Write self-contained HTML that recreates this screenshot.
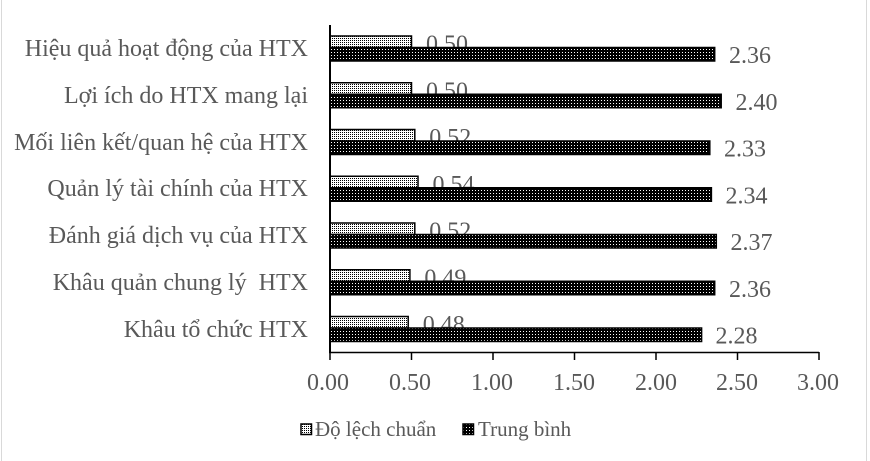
<!DOCTYPE html>
<html><head><meta charset="utf-8"><style>
html,body{margin:0;padding:0;background:#fff;}
svg{display:block;}
text{font-family:"Liberation Serif","Times New Roman",serif;fill:#595959;}
</style></head><body>
<svg width="870" height="461" viewBox="0 0 870 461" xmlns="http://www.w3.org/2000/svg">
<defs>
<pattern id="lt" width="2" height="2" patternUnits="userSpaceOnUse">
<rect width="2" height="2" fill="#fff"/><rect width="1" height="1" fill="#000"/>
</pattern>
<pattern id="dk" width="3" height="3" patternUnits="userSpaceOnUse">
<rect width="3" height="3" fill="#000"/><rect x="1" y="1" width="1" height="1" fill="#fff"/>
</pattern>
</defs>
<rect x="0" y="0" width="870" height="461" fill="#fff"/>
<line x1="1.5" y1="0" x2="1.5" y2="461" stroke="#d9d9d9" stroke-width="1"/>
<line x1="866.5" y1="0" x2="866.5" y2="461" stroke="#d9d9d9" stroke-width="1"/>

<!-- category labels -->
<g font-size="24" text-anchor="end">
<text x="308" y="56">Hiệu quả hoạt động của HTX</text>
<text x="308" y="103">Lợi ích do HTX mang lại</text>
<text x="308" y="150">Mối liên kết/quan hệ của HTX</text>
<text x="308" y="196">Quản lý tài chính của HTX</text>
<text x="308" y="243">Đánh giá dịch vụ của HTX</text>
<text x="308" y="290">Khâu quản chung lý&#160; HTX</text>
<text x="308" y="337">Khâu tổ chức HTX</text>
</g>

<!-- light bars (Độ lệch chuẩn) -->
<g fill="url(#lt)" stroke="#000" stroke-width="1.5">
<rect x="330" y="36" width="81.5" height="11.5"/>
<rect x="330" y="82.75" width="81.5" height="11.5"/>
<rect x="330" y="129.5" width="84.8" height="11.5"/>
<rect x="330" y="176.25" width="88" height="11.5"/>
<rect x="330" y="223" width="84.8" height="11.5"/>
<rect x="330" y="269.75" width="79.9" height="11.5"/>
<rect x="330" y="316.5" width="78.2" height="11.5"/>
</g>
<!-- light labels (drawn before dark bars, partly hidden) -->
<g font-size="24">
<text x="426" y="51.5">0.50</text>
<text x="426" y="98.25">0.50</text>
<text x="429.3" y="145">0.52</text>
<text x="432.5" y="191.75">0.54</text>
<text x="429.3" y="238.5">0.52</text>
<text x="424.4" y="285.25">0.49</text>
<text x="422.7" y="332">0.48</text>
</g>

<!-- dark bars (Trung bình) -->
<g fill="url(#dk)" stroke="#000" stroke-width="1.5">
<rect x="330" y="47.5" width="384.7" height="13.5"/>
<rect x="330" y="94.25" width="391.2" height="13.5"/>
<rect x="330" y="141" width="379.8" height="13.5"/>
<rect x="330" y="187.75" width="381.4" height="13.5"/>
<rect x="330" y="234.5" width="386.3" height="13.5"/>
<rect x="330" y="281.25" width="384.7" height="13.5"/>
<rect x="330" y="328" width="371.6" height="13.5"/>
</g>
<g font-size="24">
<text x="729" y="63">2.36</text>
<text x="735.5" y="109.75">2.40</text>
<text x="724" y="156.5">2.33</text>
<text x="725.5" y="203.25">2.34</text>
<text x="730.5" y="250">2.37</text>
<text x="729" y="296.75">2.36</text>
<text x="715.5" y="343.5">2.28</text>
</g>

<!-- axes -->
<line x1="330" y1="25" x2="330" y2="353" stroke="#000" stroke-width="2"/>
<g stroke="#000" stroke-width="1.5">
<line x1="329" y1="352.5" x2="819" y2="352.5"/>
<line x1="330" y1="352" x2="330" y2="360"/>
<line x1="411.5" y1="352" x2="411.5" y2="360"/>
<line x1="493" y1="352" x2="493" y2="360"/>
<line x1="574.5" y1="352" x2="574.5" y2="360"/>
<line x1="656" y1="352" x2="656" y2="360"/>
<line x1="737.5" y1="352" x2="737.5" y2="360"/>
<line x1="819" y1="352" x2="819" y2="360"/>
</g>
<g font-size="24" text-anchor="middle">
<text x="328" y="390">0.00</text>
<text x="410" y="390">0.50</text>
<text x="492" y="390">1.00</text>
<text x="574" y="390">1.50</text>
<text x="656" y="390">2.00</text>
<text x="737" y="390">2.50</text>
<text x="818" y="390">3.00</text>
</g>

<!-- legend -->
<rect x="301" y="424" width="10.5" height="10.5" fill="url(#lt)" stroke="#000" stroke-width="1.5"/>
<text x="315" y="436" font-size="21">Độ lệch chuẩn</text>
<rect x="463" y="424" width="10.5" height="10.5" fill="url(#dk)" stroke="#000" stroke-width="1.5"/>
<text x="478" y="436" font-size="21">Trung bình</text>
</svg>
</body></html>
